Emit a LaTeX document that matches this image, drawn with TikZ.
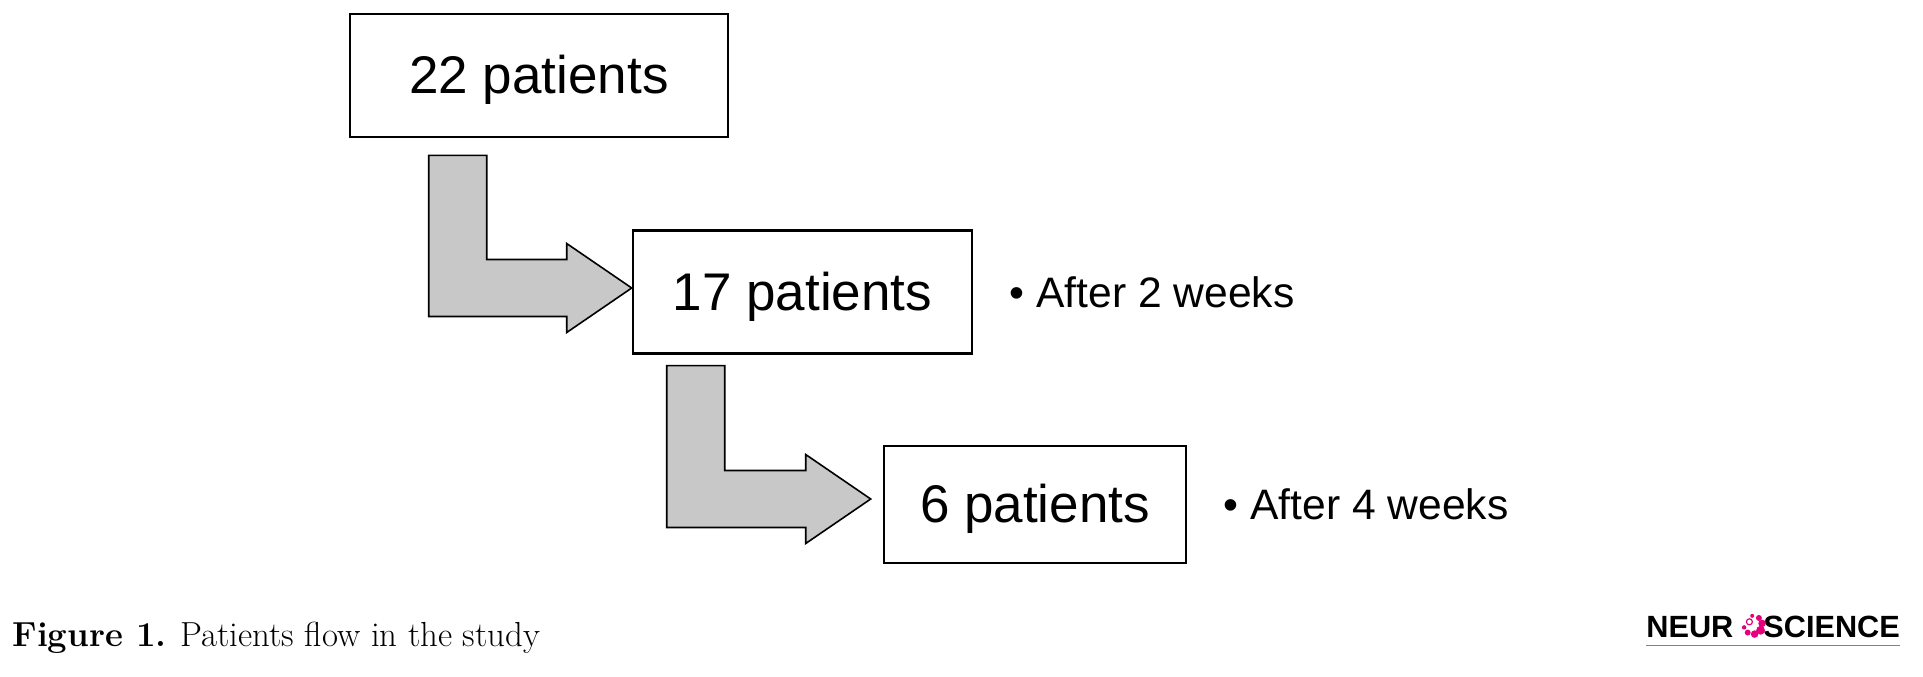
\documentclass[tikz,border=0pt]{standalone}
\usepackage{fontspec}
\setsansfont{Liberation Sans}
\usetikzlibrary{positioning,calc}

\definecolor{arrowgray}{RGB}{200,200,200}
\definecolor{logopink}{RGB}{228,0,124}
\definecolor{rulegray}{RGB}{130,130,130}

\tikzset{
  patientbox/.style={rectangle, draw, line width=1.3pt, inner sep=0pt, text height=19pt, text depth=1pt, font=\sffamily\fontsize{26.5pt}{30pt}\selectfont},
  timelabel/.style={inner sep=0pt, font=\sffamily\fontsize{21.3pt}{25pt}\selectfont},
  flowarrow/.style={draw, fill=arrowgray, line width=0.8pt, line join=miter},
  logotext/.style={inner sep=0pt, anchor=base west, font=\sffamily\bfseries\fontsize{15.35pt}{18pt}\selectfont},
}

% bent block arrow: top left corner of the stem, tip
\newcommand{\bentarrow}[2]{%
  \draw[flowarrow] let \p1=(#1), \p2=(#2) in
    (\x1,\y1) -- (\x1+29pt,\y1) -- (\x1+29pt,\y2+14.25pt) -- (\x2-32.5pt,\y2+14.25pt)
    -- (\x2-32.5pt,\y2+22.25pt) -- (\x2,\y2) -- (\x2-32.5pt,\y2-22.25pt)
    -- (\x2-32.5pt,\y2-14.25pt) -- (\x1,\y2-14.25pt) -- cycle;}

\begin{document}
\begin{tikzpicture}[x=0.5pt,y=-0.5pt]
        \useasboundingbox (0,0) rectangle (1923,676);
        \node[patientbox, minimum width=189pt, minimum height=61.5pt] (box1) at (539,75.5) {22 patients};
        \node[patientbox, minimum width=169.5pt, minimum height=61.25pt] (box2) at (802.5,292) {17 patients};
        \node[patientbox, minimum width=151pt, minimum height=58.5pt] (box3) at (1035,504.5) {6 patients};
        \node[timelabel, right = 18pt of box2] (wk2) {• After 2 weeks};
        \node[timelabel, right = 18pt of box3] (wk4) {• After 4 weeks};

        \coordinate (a1start) at ([xshift=40pt,yshift=-8.5pt]box1.south west);
        \coordinate (a1tip) at ([yshift=2pt]box2.west);
        \coordinate (a2start) at ([xshift=17.5pt,yshift=-5.5pt]box2.south west);
        \coordinate (a2tip) at ([xshift=-6pt,yshift=2.75pt]box3.west);
        \bentarrow{a1start}{a1tip}
        \bentarrow{a2start}{a2tip}

        % caption and logo
        \node[anchor=base west, inner sep=0pt, font=\fontsize{17.4pt}{20pt}\selectfont] (caption) at (12,646) {\textbf{Figure 1.} Patients flow in the study};
        \node[logotext] (neur) at (1646,637) {NEUR};
        \node[logotext] (science) at (1763,637) {SCIENCE};
        \coordinate (cell) at (1753,625);
        \draw[logopink, line width=0.6pt] ([shift={(-1.8pt,1.6pt)}]cell) circle (1.5pt);
        \foreach \ang/\rad in {95/1.0, 50/1.5, 10/1.9, -35/2.2, -80/1.9, -125/1.5, -165/1.1}
          \fill[logopink] (cell) ++(\ang:4.6pt) circle (\rad pt);
        \draw[rulegray, line width=0.5pt] ([yshift=-4pt]neur.base west) -- ([yshift=-4pt]science.base east);
      \end{tikzpicture}
\end{document}
